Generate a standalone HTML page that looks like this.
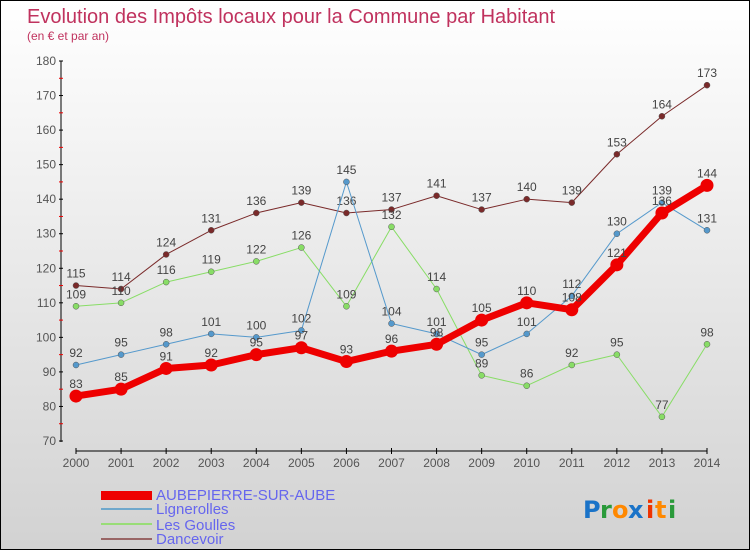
<!DOCTYPE html>
<html><head><meta charset="utf-8"><style>
body{margin:0}
#wrap{position:relative;width:748px;height:548px;border:1px solid #000;background:linear-gradient(#ffffff,#d2d2d2);font-family:"Liberation Sans",sans-serif;overflow:hidden}
</style></head><body>
<div id="wrap">
<svg id="svg" width="748" height="548" xmlns="http://www.w3.org/2000/svg">
<text x="26" y="22" font-size="20" fill="#c0325e">Evolution des Impôts locaux pour la Commune par Habitant</text>
<text x="26" y="39" font-size="12" fill="#c0325e">(en € et par an)</text>
<g id="axes"></g><g id="series"></g>
<g>
<rect x="100" y="490" width="51" height="9" fill="#ee0000"/>
<text x="155" y="499" font-size="15" fill="#6666ee">AUBEPIERRE-SUR-AUBE</text>
<rect x="100" y="507" width="51" height="2" fill="#6fa8cc"/>
<text x="155" y="513" font-size="15" fill="#6666ee">Lignerolles</text>
<rect x="100" y="522" width="51" height="2" fill="#99dd77"/>
<text x="155" y="529" font-size="15" fill="#6666ee">Les Goulles</text>
<rect x="100" y="537" width="51" height="2" fill="#996666"/>
<text x="155" y="543" font-size="15" fill="#6666ee">Dancevoir</text>
</g>
<g font-size="24" font-weight="bold" font-family="'DejaVu Sans',sans-serif">
<text x="582" y="517" fill="#1a73c8">P</text><text x="599" y="517" fill="#2a9a3a">r</text><text x="611" y="517" fill="#ff8800">o</text><text x="627" y="517" fill="#1a73c8">x</text><text x="645" y="517" fill="#ee3300">i</text><text x="654" y="517" fill="#ff8800">t</text><text x="667" y="517" fill="#2a9a3a">i</text>
</g>
</svg></div>
<script>
const years=[2000,2001,2002,2003,2004,2005,2006,2007,2008,2009,2010,2011,2012,2013,2014];
const yTicks=[70,80,90,100,110,120,130,140,150,160,170,180];
const aubepierre=[83,85,91,92,95,97,93,96,98,105,110,108,121,136,144];
const lignerolles=[92,95,98,101,100,102,145,104,101,95,101,112,130,139,131];
const lesGoulles=[109,110,116,119,122,126,109,132,114,89,86,92,95,77,98];
const dancevoir=[115,114,124,131,136,139,136,137,141,137,140,139,153,164,173];
const NS="http://www.w3.org/2000/svg";
const xS=i=>75+i*(706-75)/(years.length-1);
const yS=v=>440-(v-70)*(380/110);
function mk(tag,attrs,parent){const e=document.createElementNS(NS,tag);for(const k in attrs)e.setAttribute(k,attrs[k]);parent.appendChild(e);return e;}
const ax=document.getElementById('axes');
let l=mk('line',{x1:60,y1:60,x2:60,y2:441,stroke:'#000','stroke-width':1},ax);


yTicks.forEach(v=>{
 mk('line',{x1:58,x2:62,y1:yS(v),y2:yS(v),stroke:'#000'},ax);
 if(v<180)mk('line',{x1:58,x2:62,y1:yS(v+5),y2:yS(v+5),stroke:'#e00'},ax);
 const t=mk('text',{x:55,y:yS(v)+4,'font-size':12,fill:'#555','text-anchor':'end'},ax);
 t.textContent=v;
 
 
});
l=mk('line',{x1:75,y1:450,x2:706,y2:450,stroke:'#000'},ax);


years.forEach((y,i)=>{
 mk('line',{x1:xS(i),x2:xS(i),y1:447,y2:453,stroke:'#000'},ax);
 const t=mk('text',{x:xS(i),y:466,'font-size':12,fill:'#555','text-anchor':'middle'},ax);
 t.textContent=y;
 
 
});
const sg=document.getElementById('series');
function draw(data,color,w,r,name){
 const g=mk('g',{},sg);
 
 
 const p=mk('polyline',{points:data.map((v,i)=>xS(i)+','+yS(v)).join(' '),fill:'none',stroke:color,'stroke-width':w,'stroke-linejoin':'round'},g);
 
 
 data.forEach((v,i)=>{
  const c=mk('circle',{cx:xS(i),cy:yS(v),r:r,fill:color,stroke:r>4?color:'#555','stroke-width':r>4?0:0.5},g);
  
  
  const t=mk('text',{x:xS(i),y:yS(v)-8,'font-size':12,fill:'#444','text-anchor':'middle'},g);
  t.textContent=v;
  
  
 });
}
draw(dancevoir,'#7a2a2a',1,3,'dancevoir');
draw(lesGoulles,'#88dd66',1,3,'les-goulles');
draw(lignerolles,'#5599cc',1,3,'lignerolles');
draw(aubepierre,'#ee0000',7,6.5,'aubepierre');
</script>
</body></html>
